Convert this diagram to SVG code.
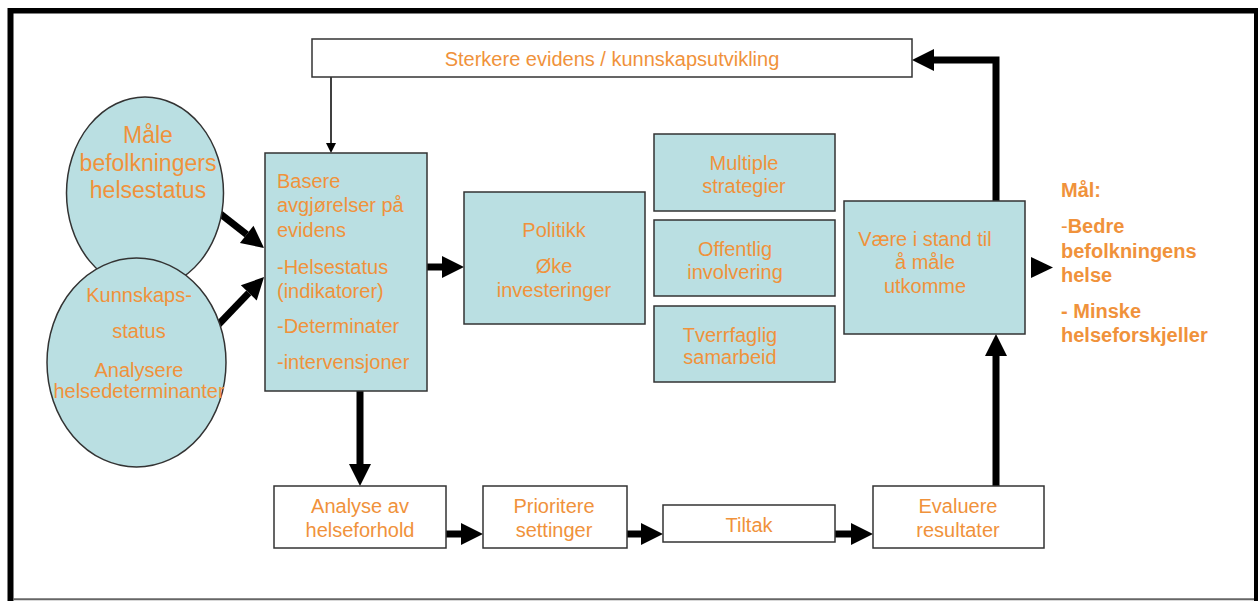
<svg xmlns="http://www.w3.org/2000/svg" width="1260" height="601" viewBox="0 0 1260 601">
<defs>
<style>
.t{font-family:"Liberation Sans",Arial,sans-serif;font-size:20px;fill:#F0923B}
.c{text-anchor:middle}
.b{font-weight:bold}
.box{fill:#BADFE2;stroke:#333;stroke-width:1.5}
.wbox{fill:#fff;stroke:#333;stroke-width:1.5}
.thick{fill:none;stroke:#000;stroke-width:7;marker-end:url(#ah)}
.thin{fill:none;stroke:#000;stroke-width:1.5;marker-end:url(#ahs)}
</style>
<marker id="ah" markerUnits="userSpaceOnUse" markerWidth="23" markerHeight="23" refX="0" refY="11" orient="auto" viewBox="0 0 23 23" overflow="visible">
<path d="M0,0 L22,11 L0,22 Z" fill="#000"/>
</marker>
<marker id="ahs" markerUnits="userSpaceOnUse" markerWidth="11" markerHeight="11" refX="0" refY="5" orient="auto" viewBox="0 0 11 11" overflow="visible">
<path d="M0,0 L10,5 L0,10 Z" fill="#000"/>
</marker>
</defs>
<rect x="0" y="0" width="1260" height="601" fill="#fff"/>
<g id="frame">
<rect x="8" y="8" width="1250" height="5.5" fill="#000"/>
<rect x="7.5" y="8" width="6" height="593" fill="#000"/>
<rect x="1254" y="8" width="4" height="593" fill="#000"/>
<line x1="13" y1="599.3" x2="1254" y2="599.3" stroke="#666" stroke-width="2"/>
</g>
<g id="connectors">
<path class="thin" d="M331,77 L331,143"/>
<path class="thick" d="M218,212 L246.7,234.4"/>
<path class="thick" d="M218,325 L248.8,292.9"/>
<path class="thick" d="M427,267 L442,267"/>
<path class="thick" d="M360,391 L360,464"/>
<path class="thick" d="M446,534 L461,534"/>
<path class="thick" d="M627,534 L641,534"/>
<path class="thick" d="M835,534 L851,534"/>
<path class="thick" d="M996,487 L996,356"/>
<path class="thick" d="M996,201 L996,60 L934,60"/>
<polygon points="1031,257 1053,267.5 1031,278" fill="#000"/>
</g>
<g id="n-top">
<rect class="wbox" x="312" y="39" width="600" height="38"/>
<text class="t c" x="612" y="66">Sterkere evidens / kunnskapsutvikling</text>
</g>
<g id="n-maale">
<ellipse class="box" cx="145" cy="193" rx="78.5" ry="96"/>
<text class="t c" x="148" y="143" style="font-size:23px">Måle</text>
<text class="t c" x="148" y="171" style="font-size:23px">befolkningers</text>
<text class="t c" x="148" y="198" style="font-size:23px">helsestatus</text>
</g>
<g id="n-kunnskap">
<ellipse class="box" cx="136.5" cy="362.5" rx="89.5" ry="104.5"/>
<text class="t c" x="139" y="302">Kunnskaps-</text>
<text class="t c" x="139" y="338">status</text>
<text class="t c" x="139" y="377">Analysere</text>
<text class="t c" x="139" y="398">helsedeterminanter</text>
</g>
<g id="n-basere">
<rect class="box" x="265" y="153" width="162" height="238"/>
<text class="t" x="277" y="188">Basere</text>
<text class="t" x="277" y="212">avgjørelser på</text>
<text class="t" x="277" y="237">evidens</text>
<text class="t" x="277" y="274">-Helsestatus</text>
<text class="t" x="277" y="298">(indikatorer)</text>
<text class="t" x="277" y="333">-Determinater</text>
<text class="t" x="277" y="369">-intervensjoner</text>
</g>
<g id="n-politikk">
<rect class="box" x="464" y="192" width="181" height="132"/>
<text class="t c" x="554" y="237">Politikk</text>
<text class="t c" x="554" y="273">Øke</text>
<text class="t c" x="554" y="297">investeringer</text>
</g>
<g id="n-multiple">
<rect class="box" x="654" y="134" width="181" height="77"/>
<text class="t c" x="744" y="170">Multiple</text>
<text class="t c" x="744" y="193">strategier</text>
</g>
<g id="n-offentlig">
<rect class="box" x="654" y="220" width="181" height="76"/>
<text class="t c" x="735" y="256">Offentlig</text>
<text class="t c" x="735" y="279">involvering</text>
</g>
<g id="n-tverrfaglig">
<rect class="box" x="654" y="306" width="181" height="76"/>
<text class="t c" x="730" y="342">Tverrfaglig</text>
<text class="t c" x="730" y="364">samarbeid</text>
</g>
<g id="n-vaere">
<rect class="box" x="844" y="201" width="181" height="133"/>
<text class="t c" x="925" y="246">Være i stand til</text>
<text class="t c" x="925" y="269">å måle</text>
<text class="t c" x="925" y="293">utkomme</text>
</g>
<g id="n-maal">
<text class="t b" x="1061" y="197">Mål:</text>
<text class="t" x="1061" y="233">-<tspan class="b">Bedre</tspan></text>
<text class="t b" x="1061" y="258">befolkningens</text>
<text class="t b" x="1061" y="282">helse</text>
<text class="t b" x="1061" y="318">- Minske</text>
<text class="t b" x="1061" y="342">helseforskjeller</text>
</g>
<g id="n-analyse">
<rect class="wbox" x="274" y="486" width="172" height="62"/>
<text class="t c" x="360" y="513">Analyse av</text>
<text class="t c" x="360" y="537">helseforhold</text>
</g>
<g id="n-prioritere">
<rect class="wbox" x="483" y="486" width="144" height="62"/>
<text class="t c" x="554" y="513">Prioritere</text>
<text class="t c" x="554" y="537">settinger</text>
</g>
<g id="n-tiltak">
<rect class="wbox" x="663" y="505" width="172" height="37"/>
<text class="t c" x="749" y="532">Tiltak</text>
</g>
<g id="n-evaluere">
<rect class="wbox" x="873" y="486" width="171" height="62"/>
<text class="t c" x="958" y="513">Evaluere</text>
<text class="t c" x="958" y="537">resultater</text>
</g>
</svg>
